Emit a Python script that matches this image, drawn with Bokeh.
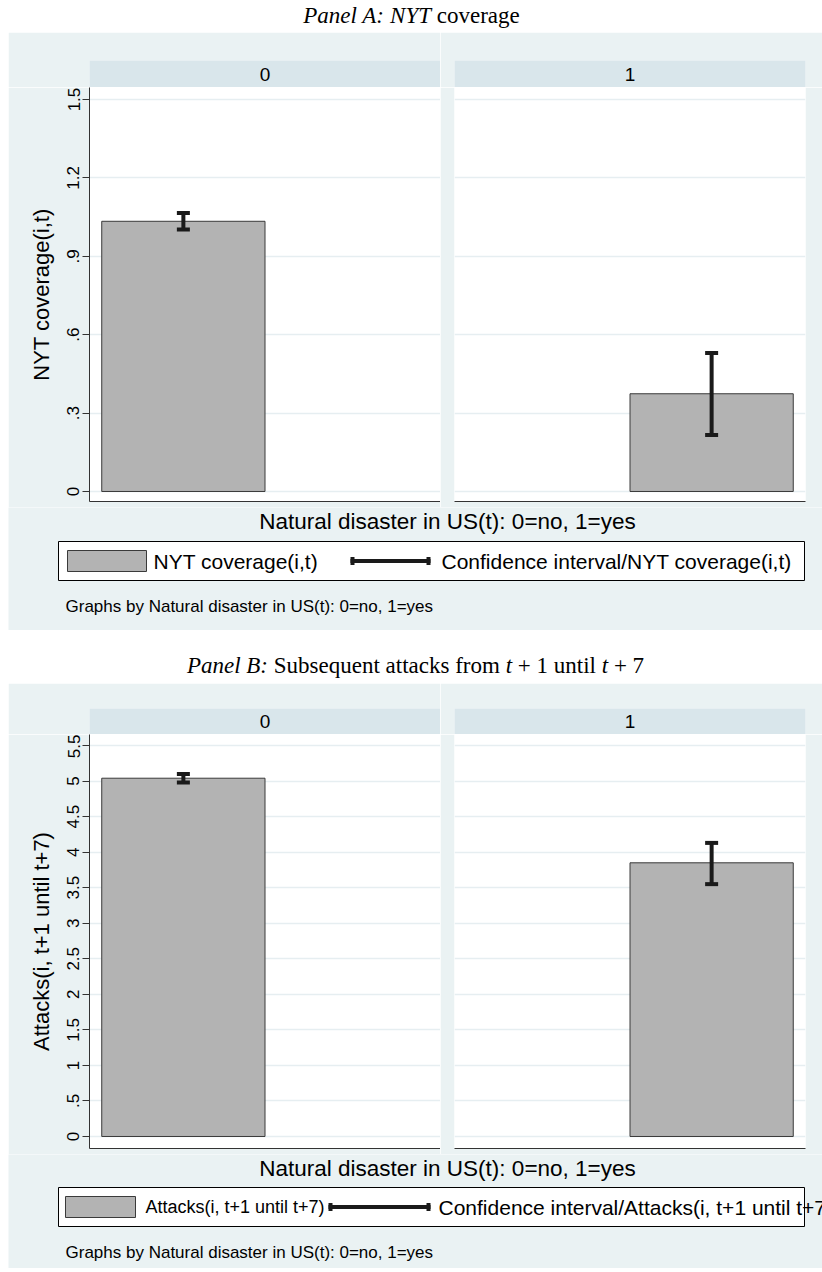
from bokeh.plotting import figure
from bokeh.layouts import column, row
from bokeh.models import Range1d, FixedTicker, Whisker, TeeHead, ColumnDataSource, Spacer, Grid
from bokeh.core.properties import value
from bokeh.embed import file_html
from bokeh.resources import INLINE

# ---------------- data ----------------
groups = [0, 1]
group_labels = ["0", "1"]

nyt_mean = [1.034, 0.374]
nyt_lower = [1.003, 0.216]
nyt_upper = [1.066, 0.530]

att_mean = [5.04, 3.85]
att_lower = [4.98, 3.55]
att_upper = [5.10, 4.13]

nyt_ticks = [0, 0.3, 0.6, 0.9, 1.2, 1.5]
nyt_tick_labels = ["0", ".3", ".6", ".9", "1.2", "1.5"]
att_ticks = [0, 0.5, 1, 1.5, 2, 2.5, 3, 3.5, 4, 4.5, 5, 5.5]
att_tick_labels = ["0", ".5", "1", "1.5", "2", "2.5", "3", "3.5", "4", "4.5", "5", "5.5"]

nyt_label = "NYT coverage(i,t)"
att_label = "Attacks(i, t+1 until t+7)"
x_title = "Natural disaster in US(t): 0=no, 1=yes"
by_note = "Graphs by Natural disaster in US(t): 0=no, 1=yes"

# title pieces: (text, font style, estimated width at 23px)
title_a = [("Panel A:", "italic", 81.1), ("NYT", "italic", 40.9), ("coverage", "normal", 83.0)]
title_b = [("Panel B:", "italic", 81.1), ("Subsequent attacks from", "normal", 226.1),
           ("t", "italic", 6.4), ("+ 1 until", "normal", 78.2),
           ("t", "italic", 6.4), ("+ 7", "normal", 30.2)]

# ---------------- style ----------------
W = 822
PAD = 8
BG = "#eaf2f3"
STRIP = "#d9e6eb"
GRID = "#e6eef1"
BAR = "#b3b3b3"
BAR_LINE = "#3a3a3a"
CI = "#1a1a1a"
AXIS = "#333333"
SANS = "Liberation Sans"
SERIF = "Liberation Serif"
LEFT_W, RIGHT_W = 432, 382
LEFT_BORDER, GAP, RIGHT_BORDER = 81, 14, 17


def blank(w, h, xr, yr, fill, border=None):
    p = figure(width=w, height=h, x_range=xr, y_range=yr, output_backend="svg",
               toolbar_location=None, x_axis_location=None, y_axis_location=None,
               title=None, min_border=0)
    p.min_border_left = p.min_border_right = p.min_border_top = p.min_border_bottom = 0
    p.background_fill_color = fill
    p.border_fill_color = border or fill
    p.outline_line_color = None
    p.grid.visible = False
    return p


def title_block(h, y_text, pieces, center, size=23):
    p = blank(W, h, Range1d(0, W), Range1d(h, 0), "white")
    space = 0.25 * size
    total = sum(wd for _, _, wd in pieces) + space * (len(pieces) - 1)
    x = center - total / 2
    for txt, style, wd in pieces:
        p.text(x=[x], y=[y_text], text=[txt], text_font=value(SERIF),
               text_font_style=style, text_font_size=f"{size}px",
               text_align="left", text_baseline="middle", text_color="black")
        x += wd + space
    return p


def strip_row(h, top_gap):
    kids = [Spacer(width=PAD, height=h)]
    for i, lab in enumerate(group_labels):
        p = blank(LEFT_W if i == 0 else RIGHT_W, h, Range1d(0, 1), Range1d(0, 1), STRIP, BG)
        p.min_border_left = LEFT_BORDER if i == 0 else GAP
        p.min_border_right = 0 if i == 0 else RIGHT_BORDER
        p.min_border_top = top_gap
        p.text(x=[0.5], y=[0.5], text=[lab], text_align="center", text_baseline="middle",
               text_font=value(SANS), text_font_size="19px", text_color="black")
        kids.append(p)
    return row(*kids, spacing=0)


def plot_row(h, bottom_border, mean, lower, upper, yr, ticks, tick_labels, ylabel):
    kids = [Spacer(width=PAD, height=h)]
    for i in range(len(groups)):
        src = ColumnDataSource(dict(x=[groups[i]], top=[mean[i]],
                                    lower=[lower[i]], upper=[upper[i]]))
        p = figure(width=LEFT_W if i == 0 else RIGHT_W, height=h,
                   x_range=Range1d(-0.575, 1.575), y_range=Range1d(*yr),
                   output_backend="svg", toolbar_location=None, title=None,
                   x_axis_location="below", y_axis_location="left" if i == 0 else None,
                   min_border=0)
        p.min_border_left = LEFT_BORDER if i == 0 else GAP
        p.min_border_right = 0 if i == 0 else RIGHT_BORDER
        p.min_border_top = 0
        p.min_border_bottom = bottom_border
        p.background_fill_color = "white"
        p.border_fill_color = BG
        p.outline_line_color = None
        p.grid.visible = False
        p.add_layout(Grid(dimension=1, ticker=FixedTicker(ticks=ticks),
                          grid_line_color=GRID, grid_line_width=1.5))

        xa = p.xaxis[0]
        xa.ticker = FixedTicker(ticks=[])
        xa.major_tick_out = xa.major_tick_in = 0
        xa.minor_tick_out = xa.minor_tick_in = 0
        xa.major_label_text_font_size = "0px"
        xa.axis_line_color = AXIS
        xa.axis_line_width = 1

        if i == 0:
            ya = p.yaxis[0]
            ya.ticker = FixedTicker(ticks=ticks)
            ya.major_label_overrides = {t: l for t, l in zip(ticks, tick_labels)}
            ya.major_label_orientation = "vertical"
            ya.major_label_text_font = SANS
            ya.major_label_text_font_size = "17px"
            ya.major_label_text_color = "black"
            ya.major_label_standoff = 3
            ya.major_tick_out = 7
            ya.major_tick_in = 0
            ya.minor_tick_line_color = None
            ya.major_tick_line_color = AXIS
            ya.axis_line_color = AXIS
            ya.axis_label = ylabel
            ya.axis_label_text_font = SANS
            ya.axis_label_text_font_style = "normal"
            ya.axis_label_text_font_size = "22px"
            ya.axis_label_text_color = "black"
            ya.axis_label_standoff = 11

        p.vbar(x="x", top="top", bottom=0, width=1.0, source=src,
               fill_color=BAR, line_color=BAR_LINE, line_width=1)
        wh = Whisker(source=src, base="x", lower="lower", upper="upper",
                     line_color=CI, line_width=4, level="annotation",
                     upper_head=TeeHead(size=13, line_color=CI, line_width=4),
                     lower_head=TeeHead(size=13, line_color=CI, line_width=4))
        p.add_layout(wh)
        kids.append(p)
    return row(*kids, spacing=0)


def bottom_block(h, top, y_xtitle, leg_top, leg_bot, bar_name, ci_name, key, y_note):
    p = blank(W - PAD, h, Range1d(PAD, W), Range1d(top + h, top), BG)
    txt = dict(text_font=value(SANS), text_color="black", text_baseline="middle")
    p.text(x=[447], y=[y_xtitle], text=[x_title], text_align="center",
           text_font_size="22.5px", **txt)
    # legend frame
    p.quad(left=[58], right=[804], top=[leg_top], bottom=[leg_bot],
           fill_color="white", line_color="black", line_width=1)
    ly = (leg_top + leg_bot) / 2
    sw_l, sw_r, txt1_x, txt1_size, ln_l, ln_r, txt2_x = key
    p.quad(left=[sw_l], right=[sw_r], top=[ly - 10.5], bottom=[ly + 10.5],
           fill_color=BAR, line_color=BAR_LINE, line_width=1)
    p.text(x=[txt1_x], y=[ly], text=[bar_name], text_align="left",
           text_font_size=txt1_size, **txt)
    p.segment(x0=[ln_l], y0=[ly], x1=[ln_r], y1=[ly], line_color=CI, line_width=4)
    p.segment(x0=[ln_l + 2, ln_r - 2], y0=[ly - 4, ly - 4], x1=[ln_l + 2, ln_r - 2],
              y1=[ly + 4, ly + 4], line_color=CI, line_width=4)
    p.text(x=[txt2_x], y=[ly], text=[ci_name], text_align="left",
           text_font_size="21px", **txt)
    p.text(x=[65], y=[y_note], text=[by_note], text_align="left",
           text_font_size="17px", **txt)
    return row(Spacer(width=PAD, height=h), p, spacing=0)


page = column(
    title_block(32, 15, title_a, 411),
    strip_row(55, 28),
    plot_row(420, 6, nyt_mean, nyt_lower, nyt_upper, (-0.0383, 1.546),
             nyt_ticks, nyt_tick_labels, nyt_label),
    bottom_block(123, 507, 521, 541, 580, nyt_label, "Confidence interval/" + nyt_label,
                 (67, 146, 153, "21px", 350, 430, 441), 606),
    title_block(53, 35, title_b, 415),
    strip_row(51, 25),
    plot_row(420, 6, att_mean, att_lower, att_upper, (-0.169, 5.655),
             att_ticks, att_tick_labels, att_label),
    bottom_block(114, 1154, 1168, 1187, 1226, att_label, "Confidence interval/" + att_label,
                 (65, 135, 145, "18px", 328, 430, 438), 1252),
    spacing=0,
)

open("out.html", "w").write(file_html(page, INLINE))
